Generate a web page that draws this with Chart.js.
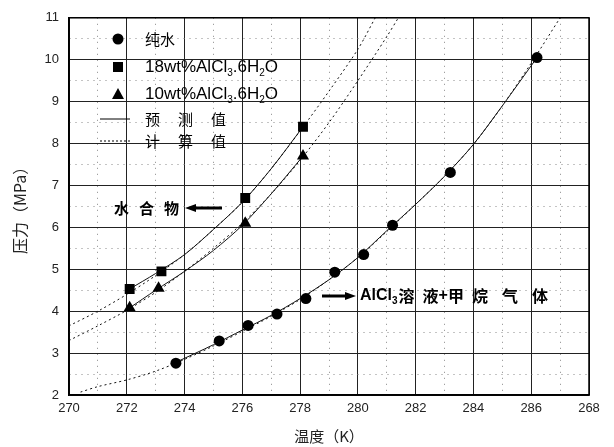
<!DOCTYPE html>
<html>
<head>
<meta charset="utf-8">
<script src="https://cdn.jsdelivr.net/npm/chart.js@4.4.1/dist/chart.umd.min.js"></script>
<style>
  html, body { margin: 0; padding: 0; background: #fff; }
  #wrap { width: 614px; height: 447px; }
</style>
</head>
<body>
<div id="wrap"><canvas id="chart" width="614" height="447"></canvas></div>
<script>
// measured points
var waterT = [273.7, 275.2, 276.2, 277.2, 278.2, 279.2, 280.2, 281.2, 283.2, 286.2];
var waterP = [2.76, 3.29, 3.66, 3.93, 4.30, 4.93, 5.35, 6.05, 7.31, 10.05];
var al18T = [272.1, 273.2, 276.1, 278.1];
var al18P = [4.53, 4.95, 6.70, 8.40];
var al10T = [272.1, 273.1, 276.1, 278.1];
var al10P = [4.08, 4.55, 6.10, 7.70];

// predicted (solid)
var predWaterT = [273.7, 275, 276, 277, 278, 279, 280, 281, 282, 283, 284, 285, 286.2];
var predWaterP = [2.78, 3.20, 3.55, 3.90, 4.30, 4.75, 5.28, 5.92, 6.55, 7.22, 7.98, 8.90, 10.05];
var pred18T = [272.1, 273, 274, 275, 276, 277, 278.1];
var pred18P = [4.53, 4.90, 5.35, 5.95, 6.60, 7.40, 8.40];
var pred10T = [272.1, 273, 274, 275, 276, 277, 278.1];
var pred10P = [4.08, 4.50, 4.95, 5.45, 6.05, 6.80, 7.70];

// calculated (dotted)
var calcWaterT = [270.4, 271, 272, 273, 274, 275, 276, 277, 278, 279, 280, 281, 282, 283, 284, 285, 286, 287];
var calcWaterP = [2.07, 2.20, 2.36, 2.57, 2.85, 3.17, 3.52, 3.88, 4.28, 4.75, 5.28, 5.90, 6.55, 7.22, 7.98, 8.90, 9.92, 11.0];
var calc18T = [270, 271, 272, 273, 274, 275, 276, 277, 278, 279, 280, 280.6];
var calc18P = [3.65, 4.00, 4.40, 4.85, 5.35, 5.95, 6.60, 7.40, 8.30, 9.25, 10.25, 11.0];
var calc10T = [270, 271, 272, 273, 274, 275, 276, 277, 278, 279, 280, 281, 281.4];
var calc10P = [3.30, 3.65, 4.02, 4.45, 4.95, 5.50, 6.10, 6.80, 7.60, 8.50, 9.50, 10.55, 11.0];

var xTickLabels = ['270', '272', '274', '276', '278', '280', '282', '284', '286', '268'];
var yTickLabels = ['2', '3', '4', '5', '6', '7', '8', '9', '10', '11'];

function pts(xs, ys) {
    return xs.map(function (x, i) { return {x: x, y: ys[i]}; });
}

var sans = '"Liberation Sans", Arial, sans-serif';
var cjk = '"Noto Sans CJK SC", sans-serif';

function markerSet(data, style, r) {
    return {
        data: data, showLine: false, pointStyle: style, pointRadius: r,
        backgroundColor: '#000', borderColor: '#000', borderWidth: 0
    };
}
function lineSet(data, dash) {
    return {
        data: data, showLine: true, pointRadius: 0, borderColor: '#111',
        borderWidth: 1, borderDash: dash, tension: 0.3
    };
}

// draws text pieces, subscripts when sub is true
function richText(ctx, x, y, pieces, size, bold) {
    var w = bold ? 'bold ' : '';
    pieces.forEach(function (p) {
        if (p.sub) {
            ctx.font = w + Math.round(size * 0.6) + 'px ' + sans;
            ctx.fillText(p.t, x, y + size * 0.35);
        } else {
            ctx.font = w + size + 'px ' + (p.cjk ? cjk : sans);
            ctx.fillText(p.t, x, y);
        }
        x += ctx.measureText(p.t).width + (p.gap || 0);
    });
}

function arrow(ctx, x1, x2, y) {
    var dir = x2 > x1 ? 1 : -1;
    ctx.lineWidth = 3;
    ctx.beginPath();
    ctx.moveTo(x1, y);
    ctx.lineTo(x2 - dir * 8, y);
    ctx.stroke();
    ctx.beginPath();
    ctx.moveTo(x2, y);
    ctx.lineTo(x2 - dir * 11, y - 4);
    ctx.lineTo(x2 - dir * 11, y + 4);
    ctx.closePath();
    ctx.fill();
}

var overlay = {
    id: 'overlay',
    afterDraw: function (chart) {
        var ctx = chart.ctx, a = chart.chartArea;
        ctx.save();
        ctx.strokeStyle = '#000';
        ctx.fillStyle = '#000';
        ctx.lineWidth = 1.5;
        ctx.strokeRect(a.left, a.top, a.right - a.left, a.bottom - a.top);

        // legend
        ctx.textBaseline = 'middle';
        ctx.beginPath(); ctx.arc(118, 39, 5.5, 0, Math.PI * 2); ctx.fill();
        ctx.fillRect(113, 62, 10, 10);
        ctx.beginPath(); ctx.moveTo(118, 88); ctx.lineTo(124, 99); ctx.lineTo(112, 99); ctx.closePath(); ctx.fill();
        ctx.lineWidth = 1;
        ctx.beginPath(); ctx.moveTo(100, 119); ctx.lineTo(130, 119); ctx.stroke();
        ctx.setLineDash([2, 2]);
        ctx.beginPath(); ctx.moveTo(100, 141); ctx.lineTo(130, 141); ctx.stroke();
        ctx.setLineDash([]);

        richText(ctx, 145, 39, [{t: '纯水', cjk: true}], 15);
        richText(ctx, 145, 67, [{t: '18wt%AlCl'}, {t: '3', sub: true}, {t: '.6H'}, {t: '2', sub: true}, {t: 'O'}], 17);
        richText(ctx, 145, 94, [{t: '10wt%AlCl'}, {t: '3', sub: true}, {t: '.6H'}, {t: '2', sub: true}, {t: 'O'}], 17);
        richText(ctx, 145, 119, [{t: '预', cjk: true, gap: 18}, {t: '测', cjk: true, gap: 18}, {t: '值', cjk: true}], 15);
        richText(ctx, 145, 141, [{t: '计', cjk: true, gap: 18}, {t: '算', cjk: true, gap: 18}, {t: '值', cjk: true}], 15);

        // annotations
        richText(ctx, 114, 208, [{t: '水', cjk: true, gap: 10}, {t: '合', cjk: true, gap: 10}, {t: '物', cjk: true}], 15, true);
        arrow(ctx, 222, 185, 208);
        arrow(ctx, 322, 356, 296);
        richText(ctx, 360, 296, [{t: 'AlCl'}, {t: '3', sub: true, gap: 1}, {t: '溶', cjk: true, gap: 8}, {t: '液', cjk: true}, {t: '+'},
            {t: '甲', cjk: true, gap: 8}, {t: '烷', cjk: true, gap: 14}, {t: '气', cjk: true, gap: 14}, {t: '体', cjk: true}], 16, true);
        ctx.restore();
    }
};

var ctx = document.getElementById('chart');

var config = {
    type: 'scatter',
    data: {
        datasets: [
            markerSet(pts(waterT, waterP), 'circle', 5.5),
            markerSet(pts(al18T, al18P), 'rect', 7),
            markerSet(pts(al10T, al10P), 'triangle', 7),
            lineSet(pts(predWaterT, predWaterP), []),
            lineSet(pts(pred18T, pred18P), []),
            lineSet(pts(pred10T, pred10P), []),
            lineSet(pts(calcWaterT, calcWaterP), [2, 3]),
            lineSet(pts(calc18T, calc18P), [2, 3]),
            lineSet(pts(calc10T, calc10P), [2, 3])
        ]
    },
    options: {
        responsive: false,
        animation: false,
        layout: { padding: { left: 0, top: 14, right: 25, bottom: 0 } },
        plugins: { legend: { display: false }, tooltip: { enabled: false } },
        scales: {
            x: {
                type: 'linear', min: 270, max: 288,
                afterFit: function (s) { s.height = 52; },
                ticks: {
                    stepSize: 1, autoSkip: false, maxRotation: 0, padding: 6,
                    color: '#222', font: { family: sans, size: 13 },
                    callback: function (v) { return v % 2 === 0 ? xTickLabels[(v - 270) / 2] : ''; }
                },
                grid: {
                    drawTicks: false,
                    color: function (c) { return c.tick && c.tick.value % 2 === 0 ? '#222' : '#888'; }
                },
                border: {
                    color: '#000', width: 1.5,
                    dash: function (c) { return c.tick && c.tick.value % 2 === 0 ? [] : [1, 5]; }
                },
                title: { display: true, text: '温度（K）', color: '#222', font: { family: cjk, size: 15 }, padding: { top: 0, bottom: 2 } }
            },
            y: {
                type: 'linear', min: 2, max: 11,
                afterFit: function (s) { s.width = 69; },
                ticks: {
                    stepSize: 0.5, autoSkip: false, padding: 10,
                    color: '#222', font: { family: sans, size: 13 },
                    callback: function (v) { return Number.isInteger(v) ? yTickLabels[v - 2] : ''; }
                },
                grid: {
                    drawTicks: false,
                    color: function (c) { return c.tick && Number.isInteger(c.tick.value) ? '#222' : '#888'; }
                },
                border: {
                    color: '#000', width: 1.5,
                    dash: function (c) { return c.tick && Number.isInteger(c.tick.value) ? [] : [1, 5]; }
                },
                title: { display: true, text: '压力（MPa）', color: '#222', font: { family: cjk, size: 16 }, padding: { top: 10, bottom: 0 } }
            }
        }
    },
    plugins: [overlay]
};

var pressureChart = new Chart(ctx, config);
</script>
</body>
</html>
